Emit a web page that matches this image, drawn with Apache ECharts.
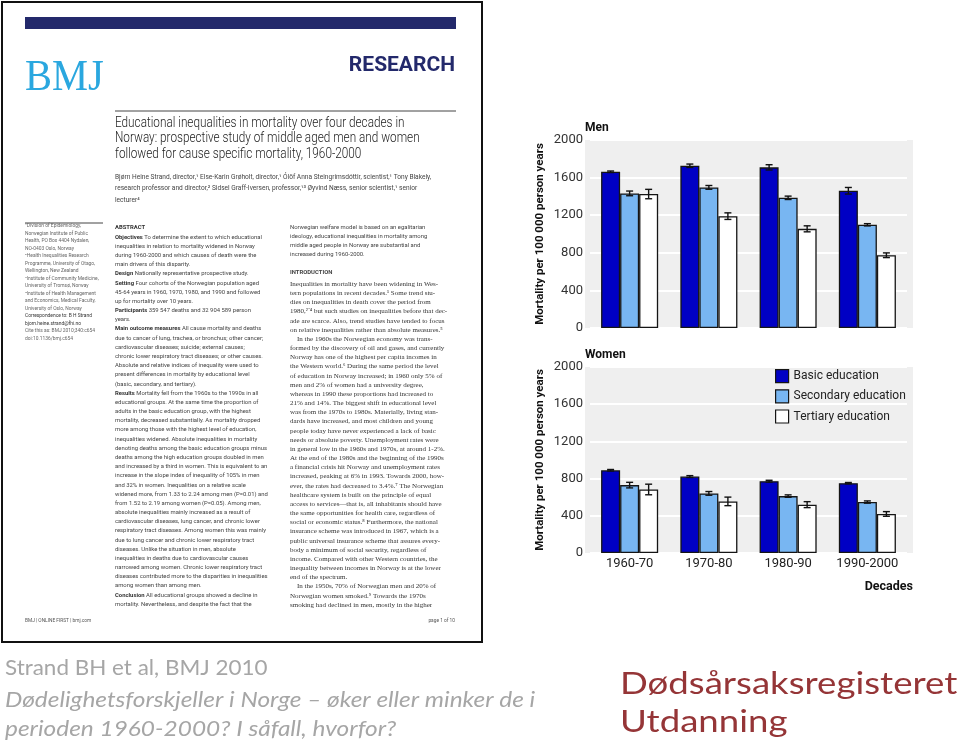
<!DOCTYPE html>
<html><head><meta charset="utf-8">
<script src="https://cdn.jsdelivr.net/npm/echarts@6/dist/echarts.min.js"></script>
<style>html,body{margin:0;padding:0;background:#fff}#c{width:960px;height:744px}</style>
</head><body><div id="c"></div>
<script>
// ---------- chart data ----------
const decades = ['1960-70', '1970-80', '1980-90', '1990-2000'];
const seriesNames = ['Basic education', 'Secondary education', 'Tertiary education'];
const menBasic = [1662, 1726, 1709, 1460];
const menSecondary = [1432, 1496, 1385, 1098];
const menTertiary = [1425, 1190, 1055, 774];
const menBasicErr = [8, 18, 28, 35];
const menSecondaryErr = [25, 20, 18, 12];
const menTertiaryErr = [50, 35, 32, 25];
const womenBasic = [890, 822, 772, 751];
const womenSecondary = [730, 641, 612, 548];
const womenTertiary = [683, 555, 520, 420];
const womenBasicErr = [8, 10, 10, 7];
const womenSecondaryErr = [30, 20, 13, 12];
const womenTertiaryErr = [57, 46, 32, 25];
const yMin = 0, yMax = 2000, yStep = 400;

// ---------- paper page text ----------
const paperTitle = [
  'Educational inequalities in mortality over four decades in',
  'Norway: prospective study of middle aged men and women',
  'followed for cause specific mortality, 1960-2000'
];
const paperAuthors = [
  'Bjørn Heine Strand, director,¹ Else-Karin Grøholt, director,¹ Ólöf Anna Steingrímsdóttir, scientist,¹ Tony Blakely,',
  'research professor and director,² Sidsel Graff-Iversen, professor,¹³ Øyvind Næss, senior scientist,¹ senior',
  'lecturer⁴'
];
const paperAffil = [
  '¹Division of Epidemiology,', 'Norwegian Institute of Public', 'Health, PO Box 4404 Nydalen,', 'NO-0403 Oslo, Norway',
  '²Health Inequalities Research', 'Programme, University of Otago,', 'Wellington, New Zealand',
  '³Institute of Community Medicine,', 'University of Tromsø, Norway',
  '⁴Institute of Health Management', 'and Economics, Medical Faculty,', 'University of Oslo, Norway',
  'Correspondence to: B H Strand', 'bjorn.heine.strand@fhi.no',
  'Cite this as: BMJ 2010;340:c654', 'doi:10.1136/bmj.c654'
];
const paperAbstract = [
  '#ABSTRACT',
  'Objectives| To determine the extent to which educational',
  'inequalities in relation to mortality widened in Norway',
  'during 1960-2000 and which causes of death were the',
  'main drivers of this disparity.',
  'Design| Nationally representative prospective study.',
  'Setting| Four cohorts of the Norwegian population aged',
  '45-64 years in 1960, 1970, 1980, and 1990 and followed',
  'up for mortality over 10 years.',
  'Participants| 359 547 deaths and 32 904 589 person',
  'years.',
  'Main outcome measures| All cause mortality and deaths',
  'due to cancer of lung, trachea, or bronchus; other cancer;',
  'cardiovascular diseases; suicide; external causes;',
  'chronic lower respiratory tract diseases; or other causes.',
  'Absolute and relative indices of inequality were used to',
  'present differences in mortality by educational level',
  '(basic, secondary, and tertiary).',
  'Results| Mortality fell from the 1960s to the 1990s in all',
  'educational groups. At the same time the proportion of',
  'adults in the basic education group, with the highest',
  'mortality, decreased substantially. As mortality dropped',
  'more among those with the highest level of education,',
  'inequalities widened. Absolute inequalities in mortality',
  'denoting deaths among the basic education groups minus',
  'deaths among the high education groups doubled in men',
  'and increased by a third in women. This is equivalent to an',
  'increase in the slope index of inequality of 105% in men',
  'and 32% in women. Inequalities on a relative scale',
  'widened more, from 1.33 to 2.24 among men (P=0.01) and',
  'from 1.52 to 2.19 among women (P=0.05). Among men,',
  'absolute inequalities mainly increased as a result of',
  'cardiovascular diseases, lung cancer, and chronic lower',
  'respiratory tract diseases. Among women this was mainly',
  'due to lung cancer and chronic lower respiratory tract',
  'diseases. Unlike the situation in men, absolute',
  'inequalities in deaths due to cardiovascular causes',
  'narrowed among women. Chronic lower respiratory tract',
  'diseases contributed more to the disparities in inequalities',
  'among women than among men.',
  'Conclusion| All educational groups showed a decline in',
  'mortality. Nevertheless, and despite the fact that the'
];
const paperRightTop = [
  'Norwegian welfare model is based on an egalitarian',
  'ideology, educational inequalities in mortality among',
  'middle aged people in Norway are substantial and',
  'increased during 1960-2000.'
];
const paperIntro = [
  'Inequalities in mortality have been widening in Wes-',
  'tern populations in recent decades.¹ Some trend stu-',
  'dies on inequalities in death cover the period from',
  '1980,²⁻⁴ but such studies on inequalities before that dec-',
  'ade are scarce. Also, trend studies have tended to focus',
  'on relative inequalities rather than absolute measures.⁵',
  '    In the 1960s the Norwegian economy was trans-',
  'formed by the discovery of oil and gases, and currently',
  'Norway has one of the highest per capita incomes in',
  'the Western world.⁶ During the same period the level',
  'of education in Norway increased; in 1960 only 5% of',
  'men and 2% of women had a university degree,',
  'whereas in 1990 these proportions had increased to',
  '21% and 14%. The biggest shift in educational level',
  'was from the 1970s to 1980s. Materially, living stan-',
  'dards have increased, and most children and young',
  'people today have never experienced a lack of basic',
  'needs or absolute poverty. Unemployment rates were',
  'in general low in the 1960s and 1970s, at around 1-2%.',
  'At the end of the 1980s and the beginning of the 1990s',
  'a financial crisis hit Norway and unemployment rates',
  'increased, peaking at 6% in 1993. Towards 2000, how-',
  'ever, the rates had decreased to 3.4%.⁷ The Norwegian',
  'healthcare system is built on the principle of equal',
  'access to services—that is, all inhabitants should have',
  'the same opportunities for health care, regardless of',
  'social or economic status.⁸ Furthermore, the national',
  'insurance scheme was introduced in 1967, which is a',
  'public universal insurance scheme that assures every-',
  'body a minimum of social security, regardless of',
  'income. Compared with other Western countries, the',
  'inequality between incomes in Norway is at the lower',
  'end of the spectrum.',
  '    In the 1950s, 70% of Norwegian men and 20% of',
  'Norwegian women smoked.⁹ Towards the 1970s',
  'smoking had declined in men, mostly in the higher'
];
const slideRef = 'Strand BH et al, BMJ 2010';
const slideQuestion = ['Dødelighetsforskjeller i Norge – øker eller minker de i', 'perioden 1960-2000? I såfall, hvorfor?'];
const slideTopic = ['Dødsårsaksregisteret', 'Utdanning'];

// ---------- build ----------
const FONT = 'Roboto, "Noto Sans", sans-serif';
const colors = ['#0000c4', '#78b6f2', '#ffffff'];

function txt(x, y, text, style, extra) {
  return Object.assign({
    type: 'text', x: x, y: y, silent: true,
    style: Object.assign({ text: text, align: 'left', verticalAlign: 'middle', fill: '#333', font: '6px ' + FONT }, style)
  }, extra || {});
}

const graphic = [];
// paper page
graphic.push({ type: 'rect', shape: { x: 2, y: 2, width: 480, height: 640 }, style: { fill: '#fff', stroke: '#111', lineWidth: 2 }, z: -20, silent: true });
graphic.push({ type: 'rect', shape: { x: 25, y: 17, width: 431, height: 12 }, style: { fill: '#23296b' }, silent: true });
graphic.push(txt(25, 78, 'BMJ', { font: '44px "Liberation Serif", serif', fill: '#2aa7df' }, { scaleX: 0.92 }));
graphic.push(txt(455, 66, 'RESEARCH', { font: 'bold 21px ' + FONT, fill: '#23296b', align: 'right' }));
graphic.push({ type: 'line', shape: { x1: 115, y1: 111, x2: 456, y2: 111 }, style: { stroke: '#444', lineWidth: 1 }, silent: true });
graphic.push({ type: 'line', shape: { x1: 25, y1: 223, x2: 103, y2: 223 }, style: { stroke: '#444', lineWidth: 1 }, silent: true });
paperTitle.forEach((t, i) => graphic.push(txt(115, 123 + i * 15.5, t, { font: '300 14px ' + FONT, fill: '#222' }, { scaleX: 0.84 })));
paperAuthors.forEach((t, i) => graphic.push(txt(115, 177 + i * 11.5, t, { font: '6.6px ' + FONT, fill: '#444' })));
paperAffil.forEach((t, i) => graphic.push(txt(25, 226 + i * 7.5, t, { font: '4.9px ' + FONT, fill: i >= 12 && i <= 13 ? '#333' : '#666' })));
const boldRich = { b: { fontWeight: 'bold', fontSize: 5.9, fontFamily: FONT, fill: '#333' } };
paperAbstract.forEach((t, i) => {
  let text;
  if (t[0] === '#') text = '{b|' + t.slice(1) + '}';
  else if (t.indexOf('|') > 0) { const p = t.split('|'); text = '{b|' + p[0] + '}' + p[1]; }
  else text = t;
  graphic.push(txt(115, 228 + i * 9.18, text, { fontSize: 5.9, fontFamily: FONT, font: null, fill: '#444', rich: boldRich }));
});
paperRightTop.forEach((t, i) => graphic.push(txt(290, 228 + i * 9, t, { font: '5.9px ' + FONT, fill: '#444' })));
graphic.push(txt(290, 273, 'INTRODUCTION', { font: 'bold 5.9px ' + FONT, fill: '#444' }));
paperIntro.forEach((t, i) => graphic.push(txt(290, 284 + i * 9.17, t, { font: '7px "Liberation Serif", serif', fill: '#333' })));
graphic.push(txt(25, 621, 'BMJ | ONLINE FIRST | bmj.com', { font: '4.8px ' + FONT, fill: '#555' }));
graphic.push(txt(455, 621, 'page 1 of 10', { font: '4.8px ' + FONT, fill: '#555', align: 'right' }));

// chart decorations
graphic.push({ type: 'rect', shape: { x: 585, y: 140, width: 328, height: 188 }, style: { fill: '#efefef' }, z: -10, silent: true });
graphic.push({ type: 'rect', shape: { x: 585, y: 367, width: 328, height: 186 }, style: { fill: '#efefef' }, z: -10, silent: true });
graphic.push(txt(585, 128, 'Men', { font: 'bold 12px ' + FONT, fill: '#111' }));
graphic.push(txt(585, 355, 'Women', { font: 'bold 12px ' + FONT, fill: '#111' }));
graphic.push(txt(913, 587, 'Decades', { font: 'bold 12.5px ' + FONT, fill: '#111', align: 'right' }));

// slide texts
graphic.push(txt(5, 668, slideRef, { font: '22px Lato, sans-serif', fill: '#a6a6a6' }, { scaleX: 1.02 }));
slideQuestion.forEach((t, i) => graphic.push(txt(5, 700 + i * 29, t, { font: 'italic 22px Lato, sans-serif', fill: '#a6a6a6' }, { scaleX: 1.11 })));
slideTopic.forEach((t, i) => graphic.push(txt(620, 684 + i * 38, t, { font: '30px Lato, sans-serif', fill: '#953537' }, { scaleX: 1.22 })));

function barSeries(name, data, ai, color) {
  return {
    type: 'bar', name: name, data: data, xAxisIndex: ai, yAxisIndex: ai,
    barWidth: '24%', barGap: '0%', z: 2,
    itemStyle: { color: color, borderColor: '#151515', borderWidth: 1.3 }
  };
}
function errSeries(vals, errs, ai, k) {
  return {
    type: 'custom', xAxisIndex: ai, yAxisIndex: ai, z: 5, silent: true,
    data: vals.map((v, i) => [i, v - errs[i], v + errs[i]]),
    encode: { x: 0, y: [1, 2] },
    renderItem: function (params, api) {
      const i = api.value(0);
      const lo = api.coord([i, api.value(1)]);
      const hi = api.coord([i, api.value(2)]);
      const bw = api.size([1, 0])[0] * 0.24;
      const cx = lo[0] + (k - 1) * bw;
      const c = 3.5;
      const st = { stroke: '#111', lineWidth: 1.4 };
      return {
        type: 'group', children: [
          { type: 'line', shape: { x1: cx, y1: lo[1], x2: cx, y2: hi[1] }, style: st },
          { type: 'line', shape: { x1: cx - c, y1: lo[1], x2: cx + c, y2: lo[1] }, style: st },
          { type: 'line', shape: { x1: cx - c, y1: hi[1], x2: cx + c, y2: hi[1] }, style: st }
        ]
      };
    }
  };
}

const yAxisBase = {
  type: 'value', min: yMin, max: yMax, interval: yStep,
  name: 'Mortality per 100 000 person years', nameLocation: 'middle', nameGap: 44,
  nameTextStyle: { fontFamily: FONT, fontWeight: 'bold', fontSize: 11.5, color: '#111' },
  axisLine: { show: false }, axisTick: { show: false },
  axisLabel: { fontFamily: FONT, fontSize: 13, color: '#333', margin: 7, formatter: v => String(v) },
  splitLine: { lineStyle: { color: '#ffffff', width: 2 } }
};
const xAxisBase = {
  type: 'category', data: decades,
  axisLine: { show: false }, axisTick: { show: false }
};

const option = {
  animation: false,
  backgroundColor: '#ffffff',
  grid: [
    { left: 590, width: 317, top: 140, height: 188 },
    { left: 590, width: 317, top: 367, height: 186 }
  ],
  xAxis: [
    Object.assign({ gridIndex: 0, axisLabel: { show: false } }, xAxisBase),
    Object.assign({ gridIndex: 1, axisLabel: { fontFamily: FONT, fontSize: 13, color: '#222', margin: 4, interval: 0 } }, xAxisBase)
  ],
  yAxis: [Object.assign({ gridIndex: 0 }, yAxisBase), Object.assign({ gridIndex: 1 }, yAxisBase)],
  legend: {
    data: seriesNames.map(n => ({ name: n, icon: 'rect' })),
    orient: 'vertical', left: 775, top: 369, padding: 0, itemWidth: 13, itemHeight: 13, itemGap: 6,
    itemStyle: { borderColor: '#151515', borderWidth: 1.2 },
    textStyle: { fontFamily: FONT, fontSize: 12, color: '#222' }, selectedMode: false
  },
  graphic: graphic,
  series: [
    barSeries(seriesNames[0], menBasic, 0, colors[0]),
    barSeries(seriesNames[1], menSecondary, 0, colors[1]),
    barSeries(seriesNames[2], menTertiary, 0, colors[2]),
    barSeries(seriesNames[0], womenBasic, 1, colors[0]),
    barSeries(seriesNames[1], womenSecondary, 1, colors[1]),
    barSeries(seriesNames[2], womenTertiary, 1, colors[2]),
    errSeries(menBasic, menBasicErr, 0, 0),
    errSeries(menSecondary, menSecondaryErr, 0, 1),
    errSeries(menTertiary, menTertiaryErr, 0, 2),
    errSeries(womenBasic, womenBasicErr, 1, 0),
    errSeries(womenSecondary, womenSecondaryErr, 1, 1),
    errSeries(womenTertiary, womenTertiaryErr, 1, 2)
  ]
};
const chart = echarts.init(document.getElementById('c'), null, { renderer: 'canvas' });
chart.setOption(option);
</script>
</body></html>
